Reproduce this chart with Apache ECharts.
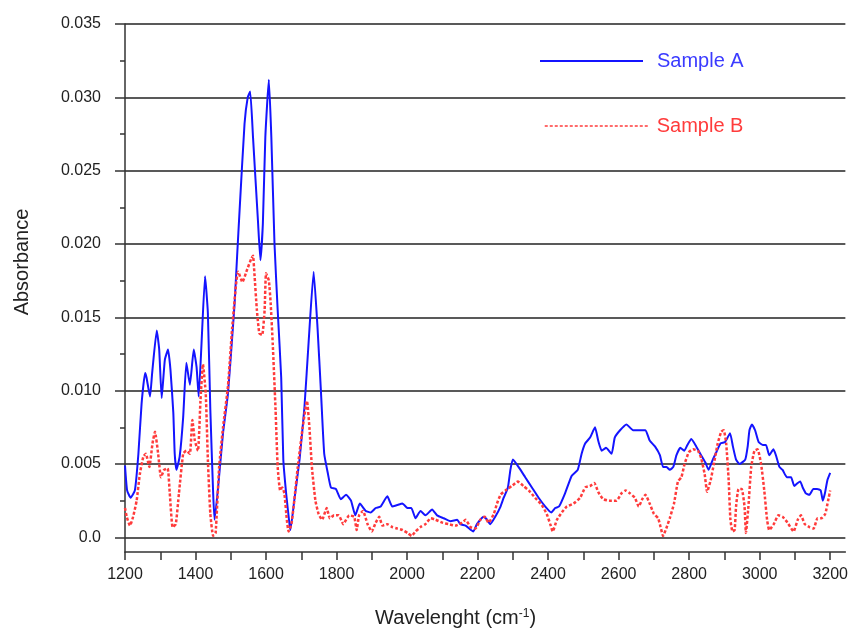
<!DOCTYPE html>
<html>
<head>
<meta charset="utf-8">
<script src="https://cdn.jsdelivr.net/npm/echarts@6/dist/echarts.min.js"></script>
<style>
  html, body { margin: 0; padding: 0; background: #fff; }
  #chart { width: 851px; height: 632px; }
</style>
</head>
<body>
<div id="chart"></div>
<script>
// Sample A (solid blue)
const waveA = [1200, 1206, 1216, 1228, 1238, 1247, 1257, 1261, 1271, 1277, 1290, 1297, 1304, 1313, 1322, 1329, 1337, 1341, 1346, 1355,
  1365, 1374, 1384, 1395, 1403, 1409, 1417, 1427, 1435, 1442, 1450, 1454, 1464, 1478, 1492, 1506, 1511, 1518, 1525, 1539,
  1548, 1555, 1563, 1577, 1584, 1591, 1598, 1608, 1615, 1624, 1633, 1643, 1649, 1657, 1666, 1669, 1680, 1695, 1709, 1721,
  1735, 1746, 1756, 1765, 1775, 1784, 1798, 1812, 1827, 1841, 1853, 1866, 1883, 1897, 1911, 1925, 1944, 1958, 1972, 1987,
  2001, 2012, 2024, 2038, 2052, 2071, 2085, 2104, 2123, 2142, 2151, 2166, 2188, 2198, 2217, 2227, 2236, 2250, 2265, 2274,
  2286, 2293, 2300, 2316, 2335, 2354, 2373, 2392, 2409, 2420, 2431, 2448, 2467, 2484, 2495, 2505, 2519, 2533, 2542, 2552,
  2564, 2580, 2589, 2604, 2622, 2641, 2660, 2676, 2688, 2703, 2717, 2726, 2736, 2745, 2755, 2764, 2775, 2786, 2795, 2806,
  2820, 2834, 2846, 2855, 2867, 2877, 2889, 2902, 2916, 2924, 2933, 2943, 2959, 2966, 2971, 2978, 2987, 2997, 3009, 3018,
  3027, 3039, 3046, 3056, 3065, 3077, 3089, 3098, 3108, 3115, 3122, 3131, 3141, 3152, 3163, 3173, 3179, 3185, 3192, 3200];
const absA = [0.0049, 0.0032, 0.0027, 0.0032, 0.0057, 0.0091, 0.0112, 0.0109, 0.0096, 0.0112, 0.0141, 0.0128, 0.0095, 0.0121, 0.0128, 0.0114, 0.0085, 0.0057, 0.0046, 0.0055,
  0.0082, 0.0119, 0.0104, 0.0128, 0.0116, 0.0096, 0.0132, 0.0178, 0.0153, 0.0087, 0.0030, 0.0012, 0.0034, 0.0071, 0.0098, 0.0143, 0.0160, 0.0192, 0.0223, 0.0282,
  0.0300, 0.0304, 0.0273, 0.0216, 0.0189, 0.0214, 0.0273, 0.0312, 0.0273, 0.0200, 0.0155, 0.0109, 0.0053, 0.0030, 0.0010, 0.0005, 0.0025, 0.0053, 0.0089, 0.0134,
  0.0181, 0.0143, 0.0098, 0.0057, 0.0044, 0.0034, 0.0033, 0.0026, 0.0029, 0.0025, 0.0015, 0.0023, 0.0018, 0.0017, 0.0020, 0.0021, 0.0028, 0.0021, 0.0022, 0.0023,
  0.0020, 0.0020, 0.0013, 0.0018, 0.0015, 0.0019, 0.0015, 0.0013, 0.0011, 0.0012, 0.0009, 0.0008, 0.0004, 0.0009, 0.0014, 0.0012, 0.0009, 0.0014, 0.0021, 0.0027,
  0.0034, 0.0046, 0.0053, 0.0048, 0.0041, 0.0034, 0.0027, 0.0021, 0.0017, 0.0020, 0.0021, 0.0030, 0.0042, 0.0046, 0.0057, 0.0064, 0.0068, 0.0075, 0.0066, 0.0059,
  0.0061, 0.0057, 0.0068, 0.0073, 0.0077, 0.0073, 0.0073, 0.0073, 0.0066, 0.0062, 0.0056, 0.0048, 0.0048, 0.0046, 0.0048, 0.0056, 0.0061, 0.0059, 0.0063, 0.0067,
  0.0062, 0.0056, 0.0051, 0.0046, 0.0053, 0.0058, 0.0064, 0.0065, 0.0071, 0.0062, 0.0053, 0.0050, 0.0053, 0.0062, 0.0073, 0.0077, 0.0073, 0.0065, 0.0063, 0.0063,
  0.0056, 0.0060, 0.0056, 0.0048, 0.0046, 0.0041, 0.0041, 0.0035, 0.0037, 0.0038, 0.0034, 0.0030, 0.0029, 0.0033, 0.0033, 0.0032, 0.0025, 0.0030, 0.0039, 0.0044];

// Sample B (dotted red)
const waveB = [1200, 1205, 1214, 1223, 1233, 1242, 1252, 1259, 1269, 1278, 1285, 1294, 1302, 1311, 1321, 1327, 1335, 1344, 1353, 1365,
  1374, 1384, 1391, 1398, 1407, 1414, 1421, 1429, 1435, 1442, 1450, 1457, 1467, 1478, 1492, 1504, 1516, 1521, 1533, 1544,
  1558, 1563, 1567, 1574, 1581, 1589, 1596, 1600, 1608, 1613, 1619, 1627, 1633, 1640, 1646, 1652, 1659, 1664, 1672, 1680,
  1690, 1704, 1716, 1723, 1730, 1740, 1749, 1759, 1772, 1781, 1793, 1806, 1819, 1836, 1850, 1857, 1864, 1875, 1888, 1900,
  1911, 1921, 1930, 1944, 1958, 1972, 1987, 2001, 2013, 2024, 2038, 2052, 2067, 2081, 2100, 2118, 2137, 2156, 2166, 2180,
  2194, 2208, 2220, 2231, 2246, 2255, 2265, 2279, 2297, 2314, 2330, 2345, 2363, 2382, 2396, 2406, 2413, 2425, 2439, 2453,
  2472, 2491, 2505, 2519, 2531, 2542, 2556, 2575, 2594, 2608, 2620, 2632, 2646, 2657, 2667, 2676, 2688, 2700, 2712, 2719,
  2726, 2735, 2745, 2757, 2768, 2778, 2787, 2799, 2811, 2825, 2834, 2844, 2851, 2861, 2870, 2881, 2891, 2898, 2905, 2912,
  2917, 2923, 2929, 2933, 2940, 2949, 2957, 2961, 2968, 2976, 2985, 2994, 3004, 3013, 3021, 3027, 3040, 3053, 3065, 3079,
  3096, 3108, 3117, 3128, 3141, 3153, 3164, 3175, 3186, 3194, 3200];
const absB = [0.0020, 0.0014, 0.0008, 0.0014, 0.0025, 0.0043, 0.0055, 0.0057, 0.0048, 0.0064, 0.0072, 0.0057, 0.0041, 0.0046, 0.0047, 0.0030, 0.0007, 0.0009, 0.0030, 0.0057,
  0.0059, 0.0057, 0.0080, 0.0066, 0.0059, 0.0093, 0.0118, 0.0098, 0.0053, 0.0016, 0.0001, 0.0003, 0.0048, 0.0075, 0.0103, 0.0143, 0.0175, 0.0181, 0.0174, 0.0181,
  0.0190, 0.0192, 0.0180, 0.0155, 0.0139, 0.0138, 0.0155, 0.0180, 0.0175, 0.0160, 0.0132, 0.0087, 0.0048, 0.0032, 0.0034, 0.0030, 0.0012, 0.0004, 0.0009, 0.0025,
  0.0048, 0.0075, 0.0093, 0.0075, 0.0048, 0.0025, 0.0016, 0.0012, 0.0020, 0.0013, 0.0015, 0.0015, 0.0009, 0.0015, 0.0014, 0.0005, 0.0015, 0.0018, 0.0009, 0.0004,
  0.0010, 0.0014, 0.0008, 0.0009, 0.0007, 0.0006, 0.0005, 0.0003, 0.0001, 0.0004, 0.0007, 0.0009, 0.0013, 0.0012, 0.0010, 0.0009, 0.0008, 0.0010, 0.0012, 0.0007,
  0.0006, 0.0012, 0.0014, 0.0010, 0.0016, 0.0023, 0.0029, 0.0032, 0.0035, 0.0038, 0.0035, 0.0032, 0.0027, 0.0022, 0.0016, 0.0009, 0.0004, 0.0012, 0.0017, 0.0021,
  0.0023, 0.0027, 0.0034, 0.0035, 0.0037, 0.0031, 0.0026, 0.0025, 0.0025, 0.0030, 0.0032, 0.0030, 0.0027, 0.0021, 0.0026, 0.0029, 0.0023, 0.0016, 0.0013, 0.0007,
  0.0001, 0.0006, 0.0013, 0.0023, 0.0038, 0.0041, 0.0050, 0.0058, 0.0060, 0.0059, 0.0054, 0.0043, 0.0031, 0.0039, 0.0050, 0.0064, 0.0072, 0.0073, 0.0064, 0.0039,
  0.0012, 0.0004, 0.0005, 0.0021, 0.0033, 0.0033, 0.0021, 0.0003, 0.0021, 0.0048, 0.0059, 0.0060, 0.0050, 0.0032, 0.0012, 0.0005, 0.0009, 0.0015, 0.0014, 0.0010,
  0.0004, 0.0012, 0.0015, 0.0009, 0.0007, 0.0006, 0.0013, 0.0013, 0.0016, 0.0025, 0.0032];

// axis ticks / labels
const xLabelValues = [1200, 1400, 1600, 1800, 2000, 2200, 2400, 2600, 2800, 3000, 3200];
const xTickValues = [1200, 1300, 1400, 1500, 1600, 1700, 1800, 1900, 2000, 2100, 2200, 2300, 2400, 2500, 2600, 2700, 2800, 2900, 3000, 3100, 3200];
const yMajorValues = [0, 0.005, 0.010, 0.015, 0.020, 0.025, 0.030, 0.035];
const yMinorValues = [0.0025, 0.0075, 0.0125, 0.0175, 0.0225, 0.0275, 0.0325];

const FONT = 'Liberation Sans, Arial, sans-serif';
const AXIS_COLOR = '#333';

const zip = (xs, ys) => xs.map((x, i) => [x, ys[i]]);

const chart = echarts.init(document.getElementById('chart'));

const option = {
    animation: false,
    backgroundColor: '#fff',
    grid: { left: 125, right: 3, top: 24, bottom: 80 },
    legend: [
        {
            left: 534, top: 46, itemWidth: 103, itemHeight: 14,
            lineStyle: { width: 2 },
            itemStyle: { opacity: 0 },
            textStyle: { fontFamily: FONT, fontSize: 20, lineHeight: 20, padding: [0, 0, 0, 9] },
            data: [{ name: 'Sample A', textStyle: { color: '#3b3bff' } }]
        },
        {
            left: 539, top: 111, itemWidth: 103, itemHeight: 14,
            lineStyle: { width: 1.5 },
            itemStyle: { opacity: 0 },
            textStyle: { fontFamily: FONT, fontSize: 20, lineHeight: 20, padding: [0, 0, 0, 4] },
            data: [{ name: 'Sample B', textStyle: { color: '#ff3b3b' } }]
        }
    ],
    xAxis: {
        type: 'value',
        min: 1200,
        max: 3243,
        axisLine: { onZero: false, lineStyle: { color: AXIS_COLOR, width: 1.5 } },
        axisTick: { customValues: xTickValues, length: 8, lineStyle: { color: AXIS_COLOR, width: 1.5 } },
        axisLabel: {
            customValues: xLabelValues, margin: 15, fontFamily: FONT, fontSize: 16, color: '#222',
            formatter: v => String(v)
        },
        splitLine: { show: false }
    },
    yAxis: [
        {
            type: 'value',
            min: -0.001,
            max: 0.035,
            axisLine: { show: true, lineStyle: { color: AXIS_COLOR, width: 1.5 } },
            axisTick: { customValues: yMajorValues, length: 10, lineStyle: { color: AXIS_COLOR, width: 1.5 } },
            axisLabel: {
                customValues: yMajorValues, margin: 24, fontFamily: FONT, fontSize: 16, color: '#222',
                formatter: v => (v === 0 ? '0.0' : v.toFixed(3))
            },
            splitLine: { show: true, lineStyle: { color: '#222', width: 1.5 } }
        },
        {
            type: 'value',
            min: -0.001,
            max: 0.035,
            position: 'left',
            axisLine: { show: false },
            axisTick: { show: true, customValues: yMinorValues, length: 5, lineStyle: { color: AXIS_COLOR, width: 1.5 } },
            axisLabel: { show: false },
            splitLine: { show: false }
        }
    ],
    graphic: [
        {
            type: 'text',
            x: 22, y: 262,
            rotation: Math.PI / 2,
            style: {
                text: 'Absorbance',
                font: '20px ' + FONT,
                fill: '#222',
                align: 'center',
                verticalAlign: 'middle'
            }
        },
        {
            type: 'text',
            x: 375, y: 618,
            style: {
                text: 'Wavelenght (cm{sup|-1})',
                font: '20px ' + FONT,
                fill: '#222',
                verticalAlign: 'middle',
                rich: {
                    sup: { fontSize: 12, fontFamily: FONT, fill: '#222', verticalAlign: 'top', lineHeight: 20 }
                }
            }
        }
    ],
    series: [
        {
            name: 'Sample A',
            type: 'line',
            data: zip(waveA, absA),
            showSymbol: false,
            symbol: 'none',
            smooth: 0.15,
            color: '#1414ff',
            lineStyle: { width: 2, color: '#1414ff' }
        },
        {
            name: 'Sample B',
            type: 'line',
            data: zip(waveB, absB),
            showSymbol: false,
            symbol: 'none',
            smooth: 0.15,
            color: '#ff3b3b',
            lineStyle: { width: 2.5, color: '#ff3b3b', type: [3, 2] }
        }
    ]
};

chart.setOption(option);
</script>
</body>
</html>
